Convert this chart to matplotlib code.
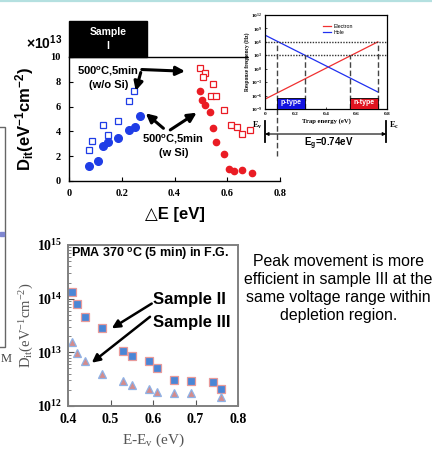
import matplotlib
matplotlib.use("Agg")
import matplotlib.pyplot as plt
import numpy as np
from matplotlib.patches import Rectangle
from matplotlib.lines import Line2D

plt.rcParams["mathtext.fontset"] = "custom"
plt.rcParams["mathtext.rm"] = "Liberation Serif"
plt.rcParams["mathtext.bf"] = "Liberation Serif:bold"
plt.rcParams["mathtext.it"] = "Liberation Serif:italic"
plt.rcParams["mathtext.sf"] = "Liberation Sans:bold"

SANS = ["Liberation Sans", "DejaVu Sans"]
SERIF = ["Liberation Serif", "DejaVu Serif"]

# --- Sample I : Dit vs deltaE (units of 1e13 eV^-1 cm^-2)
woSi_blue_x = [0.077, 0.089, 0.128, 0.148, 0.187, 0.227, 0.248]
woSi_blue_y = [2.51, 3.21, 4.52, 3.69, 4.84, 6.44, 7.25]
wSi_blue_x = [0.077, 0.109, 0.128, 0.149, 0.187, 0.227, 0.249, 0.269]
wSi_blue_y = [1.23, 1.63, 2.83, 3.18, 3.48, 4.14, 4.33, 5.24]
woSi_red_x = [0.495, 0.516, 0.507, 0.547, 0.537, 0.557, 0.586, 0.615, 0.636, 0.656, 0.685]
woSi_red_y = [9.14, 8.74, 8.42, 7.83, 6.82, 6.82, 5.75, 4.52, 4.33, 3.82, 4.14]
wSi_red_x = [0.495, 0.506, 0.516, 0.536, 0.546, 0.556, 0.586, 0.605, 0.626, 0.656, 0.695]
wSi_red_y = [7.25, 6.55, 6.15, 5.53, 4.25, 3.13, 2.14, 0.96, 0.83, 0.91, 0.67]

# --- inset : response frequency vs trap energy
trap_energy = [0.0, 0.74]
electron_freq = [1.6e-7, 1e6]
hole_freq = [3.2e7, 6.3e-6]
level_freq = [1e6, 1e3]
cut_energy = [0.08, 0.26, 0.555, 0.74]
cut_top = [1e6, 1e3, 1e3, 1e6]
p_range = [0.08, 0.26]
n_range = [0.555, 0.74]
box_top = 3e-7

# --- PMA 370C : Samples II and III
s2_x = [0.41, 0.42, 0.44, 0.48, 0.53, 0.55, 0.59, 0.61, 0.65, 0.69, 0.74, 0.76]
s2_dit = [1.35e14, 7.9e13, 4.5e13, 2.8e13, 1.07e13, 8.5e12, 6.8e12, 5.2e12,
          3.1e12, 2.9e12, 2.8e12, 2.05e12]
s3_x = [0.41, 0.42, 0.44, 0.48, 0.53, 0.55, 0.59, 0.61, 0.65, 0.69, 0.76]
s3_dit = [1.58e13, 9.8e12, 6.9e12, 3.9e12, 2.9e12, 2.5e12, 2.05e12, 1.85e12,
          1.78e12, 1.78e12, 1.49e12]

note = "Peak movement is more\nefficient in sample III at the\nsame voltage range within\ndepletion region."

W, H = 432, 450
fig = plt.figure(figsize=(W / 100, H / 100), dpi=100)


def box(l, t, r, b):
    return [l / W, 1 - b / H, (r - l) / W, (b - t) / H]


BLUE = "#1f3de6"
RED = "#ea1c24"

# ---------------- top chart
ax = fig.add_axes(box(69, 57, 280, 181))
ax.plot(woSi_blue_x, woSi_blue_y, "s", ms=4, mfc="white", mec=BLUE, mew=0.9, ls="none")
ax.plot(wSi_blue_x, wSi_blue_y, "o", ms=5.5, color=BLUE, ls="none")
ax.plot(woSi_red_x, woSi_red_y, "s", ms=5, mfc="white", mec=RED, mew=0.9, ls="none")
ax.plot(wSi_red_x, wSi_red_y, "o", ms=4.5, color=RED, ls="none")
ax.set_xlim(0, 0.8)
ax.set_ylim(0, 10)
ax.set_xticks([0, 0.2, 0.4, 0.6, 0.8])
ax.set_xticklabels(["0", "0.2", "0.4", "0.6", "0.8"])
ax.set_yticks([0, 2, 4, 6, 8, 10])
for lab in ax.get_xticklabels() + ax.get_yticklabels():
    lab.set_family(SERIF)
    lab.set_fontweight("bold")
    lab.set_fontsize(7.5)
ax.tick_params(direction="in", length=3, width=0.8, pad=6)
ax.spines["right"].set_visible(False)
for s in ["left", "bottom", "top"]:
    ax.spines[s].set_linewidth(1.0)
ax.set_xlabel("\u25b3E [eV]", family=SANS, fontweight="bold", fontsize=12, labelpad=6)
ax.set_ylabel(r"$\mathsf{D_{it}(eV^{-1}cm^{-2})}$", fontsize=12, labelpad=10)
ax.text(-0.03, 1.04, r"$\mathsf{\times 10^{13}}$", transform=ax.transAxes,
        ha="right", va="bottom", fontsize=10)

ax.add_patch(Rectangle((0, 1.0), 0.37, 0.29, transform=ax.transAxes,
                       color="black", clip_on=False, zorder=5))
ax.text(0.185, 1.145, "Sample\nI", transform=ax.transAxes, ha="center", va="center",
        color="white", family=SANS, fontweight="bold", fontsize=7.5, zorder=6,
        linespacing=1.5)

arrow = dict(arrowstyle="-|>", lw=2.2, color="black", mutation_scale=13, shrinkA=0, shrinkB=0)
ax.annotate("", xy=(0.44, 8.85), xytext=(0.276, 8.99), arrowprops=arrow)
ax.annotate("", xy=(0.253, 7.27), xytext=(0.272, 8.75), arrowprops=arrow)
ax.annotate("", xy=(0.291, 5.46), xytext=(0.358, 4.25), arrowprops=arrow)
ax.annotate("", xy=(0.484, 5.51), xytext=(0.384, 4.12), arrowprops=arrow)
ax.text(0.149, 8.4, "500$^\\mathsf{o}$C,5min\n(w/o Si)", ha="center", va="center",
        family=SANS, fontweight="bold", fontsize=8, linespacing=1.35)
ax.text(0.396, 2.91, "500$^\\mathsf{o}$C,5min\n(w Si)", ha="center", va="center",
        family=SANS, fontweight="bold", fontsize=8, linespacing=1.35)

# white backing behind the pasted inset
fig.patches.append(Rectangle((249 / W, 1 - 117 / H), 150 / W, 108 / H,
                             transform=fig.transFigure, color="white", zorder=1))

# ---------------- inset
ins = fig.add_axes(box(265, 15, 387, 109))
ins.set_zorder(2)
ins.semilogy(trap_energy, electron_freq, color="#f03030", lw=0.9, label="Electron")
ins.semilogy(trap_energy, hole_freq, color="#2030f0", lw=0.9, label="Hole")
for f in level_freq:
    ins.axhline(f, color="#333333", lw=1.0, ls=(0, (1, 1)))
for e, top in zip(cut_energy, cut_top):
    ins.plot([e, e], [1e-9, top], color="#444444", lw=1.0, ls=(0, (4, 2)))
ins.add_patch(Rectangle((p_range[0], 1e-9), p_range[1] - p_range[0], box_top - 1e-9,
                        fc="#1414e0", ec="black", lw=0.6, zorder=3))
ins.add_patch(Rectangle((n_range[0], 1e-9), n_range[1] - n_range[0], box_top - 1e-9,
                        fc="#e01420", ec="black", lw=0.6, zorder=3))
ins.text(np.mean(p_range), 3e-8, "p-type", ha="center", va="center", color="white",
         family=SANS, fontweight="bold", fontsize=5, zorder=4)
ins.text(np.mean(n_range), 3e-8, "n-type", ha="center", va="center", color="white",
         family=SANS, fontweight="bold", fontsize=5, zorder=4)
ins.set_xlim(0, 0.8)
ins.set_ylim(1e-9, 1e12)
ins.set_xticks([0, 0.2, 0.4, 0.6, 0.8])
ins.set_xticklabels(["0", "0.2", "0.4", "0.6", "0.8"])
exps = [-9, -6, -3, 0, 3, 6, 9, 12]
ins.set_yticks([10.0 ** k for k in exps])
ins.set_yticklabels([r"$\mathbf{10^{%d}}$" % k for k in exps])
ins.minorticks_off()
for lab in ins.get_xticklabels() + ins.get_yticklabels():
    lab.set_family(SERIF)
    lab.set_fontweight("bold")
    lab.set_fontsize(3.8)
ins.tick_params(direction="in", length=1.5, width=0.5, pad=2)
for s in ins.spines.values():
    s.set_linewidth(0.9)
ins.set_xlabel("Trap energy (eV)", family=SERIF, fontweight="bold", fontsize=4.8, labelpad=2)
ins.set_ylabel("Response frequency (Hz)", family=SERIF, fontweight="bold", fontsize=4,
               labelpad=1)
ins.legend(loc="upper center", bbox_to_anchor=(0.6, 0.96), frameon=False,
           prop={"family": SANS, "size": 3.8}, handlelength=1.5, handletextpad=0.4,
           labelspacing=0.3)

# band-gap marker below the inset
bt = ins.get_xaxis_transform()
ins.add_line(Line2D([0, 0], [-0.128, -0.35], transform=bt, color="black", lw=1.3, clip_on=False))
ins.add_line(Line2D([0.795, 0.795], [-0.128, -0.35], transform=bt, color="black", lw=1.3,
                    clip_on=False))
ins.add_line(Line2D([cut_energy[0]] * 2, [0, -0.5], transform=bt, color="#444444", lw=1.0,
                    ls=(0, (4, 2)), clip_on=False))
ins.annotate("", xy=(0.0, -0.266), xytext=(0.795, -0.266), xycoords=bt, textcoords=bt,
             arrowprops=dict(arrowstyle="<|-|>", lw=0.8, color="black", mutation_scale=5,
                             shrinkA=0, shrinkB=0))
ins.text(-0.015, -0.17, r"$\mathbf{E_v}$", transform=bt, ha="right", va="center",
         fontsize=6, zorder=5)
ins.text(0.81, -0.17, r"$\mathbf{E_c}$", transform=bt, ha="left", va="center",
         fontsize=6, zorder=5)
ins.text(0.42, -0.37, r"$\mathsf{E_g}$=0.74eV", transform=bt, ha="center", va="center",
         family=SANS, fontweight="bold", fontsize=7)

# ---------------- bottom chart
bx = fig.add_axes(box(68, 245, 238, 406))
bx.semilogy(s2_x, s2_dit, "s", ms=5.5, mfc="#4a86d6", mec="#e89a9a", mew=0.9, ls="none")
bx.semilogy(s3_x, s3_dit, "^", ms=6, mfc="#d48c8c", mec="#8fb2e6", mew=0.9, ls="none")
bx.set_xlim(0.4, 0.8)
bx.set_ylim(1e12, 1e15)
bx.set_xticks([0.4, 0.5, 0.6, 0.7, 0.8])
bx.set_xticklabels(["0.4", "0.5", "0.6", "0.7", "0.8"])
bx.set_yticks([1e12, 1e13, 1e14, 1e15])
bx.set_yticklabels([r"$\mathbf{10^{%d}}$" % k for k in (12, 13, 14, 15)])
for lab in bx.get_xticklabels() + bx.get_yticklabels():
    lab.set_family(SERIF)
    lab.set_fontweight("bold")
    lab.set_fontsize(10)
bx.tick_params(which="both", direction="in", color="#555555")
bx.tick_params(which="major", length=4, width=0.8)
bx.tick_params(axis="x", which="major", pad=5)
bx.tick_params(axis="y", which="major", pad=4)
bx.tick_params(which="minor", length=2, width=0.5)
bx.tick_params(axis="x", which="minor", length=0)
for s in bx.spines.values():
    s.set_color("#808080")
    s.set_linewidth(1.4)
bx.set_xlabel(r"E-E$_\mathrm{v}$ (eV)", family=SERIF, fontsize=11, color="#555555", labelpad=4)
bx.set_ylabel(r"$\mathrm{D_{it}(eV^{-1}cm^{-2})}$", fontsize=10.5, color="#555555", labelpad=1)
bx.text(0.02, 0.995, "PMA 370 $^\\mathsf{o}$C (5 min) in F.G.", transform=bx.transAxes,
        ha="left", va="top", family=SANS, fontweight="bold", fontsize=9)
arrow2 = dict(arrowstyle="-|>", lw=1.8, color="black", mutation_scale=12, shrinkA=0, shrinkB=0)
bx.annotate("", xy=(0.503, 2.8e13), xytext=(0.597, 8.1e13), arrowprops=arrow2)
bx.annotate("", xy=(0.456, 6.4e12), xytext=(0.593, 4.6e13), arrowprops=arrow2)
bx.text(0.6, 9.5e13, "Sample II", ha="left", va="center", family=SANS,
        fontweight="bold", fontsize=12)
bx.text(0.6, 3.6e13, "Sample III", ha="left", va="center", family=SANS,
        fontweight="bold", fontsize=12)

# ---------------- side note
fig.text(338.5 / W, 1 - 288.5 / H, note, ha="center", va="center", family=SANS,
         fontsize=11.4, linespacing=1.25)

# ---------------- slide remnants
fig.add_artist(Line2D([0, 1], [1 - 1 / H, 1 - 1 / H], transform=fig.transFigure,
                      color="#b4e0e0", lw=1.6))
fig.patches.append(Rectangle((-10 / W, 1 - 347 / H), 14.5 / W, 220 / H,
                             transform=fig.transFigure, fc="white", ec="#666666", lw=1.0))
fig.patches.append(Rectangle((0, 1 - 236 / H), 4 / W, 4 / H,
                             transform=fig.transFigure, color="#7f86d0"))
fig.text(1 / W, 1 - 359 / H, "M", ha="left", va="center", family=SERIF,
         fontsize=9, color="#444444")

fig.savefig("out.png", dpi=100)
